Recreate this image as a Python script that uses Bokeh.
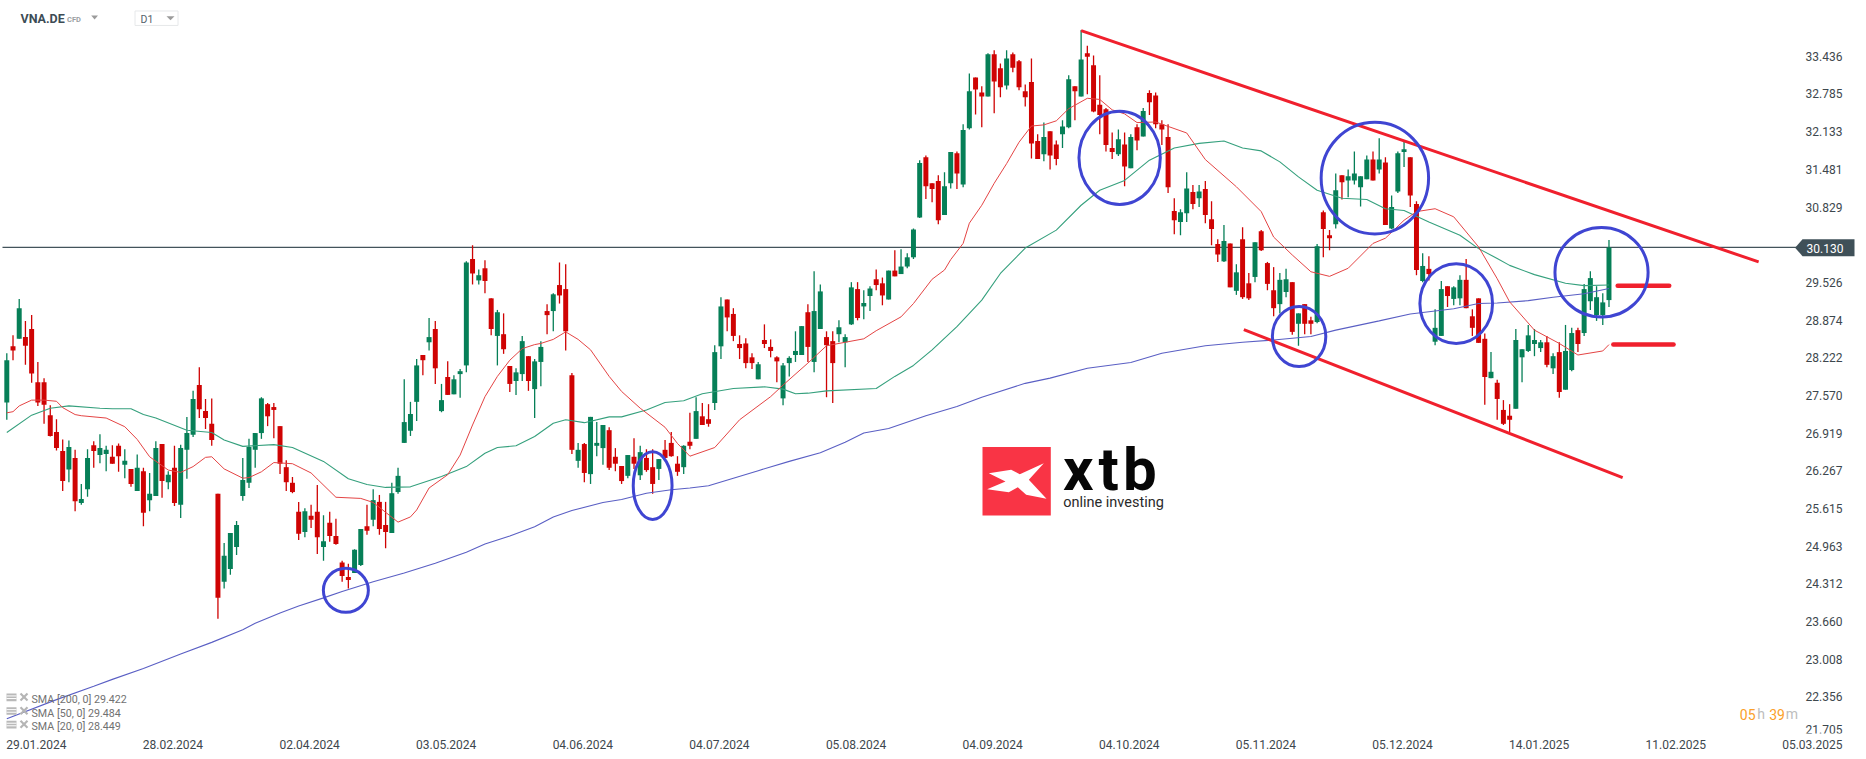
from bokeh.plotting import figure
from bokeh.embed import file_html
from bokeh.resources import INLINE
from bokeh.core.properties import value
from bokeh.models import LinearAxis, FixedTicker

# ---------- data ----------
symbol = "VNA.DE"
last_price = 30.13
date_labels = ["29.01.2024", "28.02.2024", "02.04.2024", "03.05.2024", "04.06.2024", "04.07.2024", "05.08.2024",
               "04.09.2024", "04.10.2024", "05.11.2024", "05.12.2024", "14.01.2025", "11.02.2025", "05.03.2025"]
price_ticks = [33.436, 32.785, 32.133, 31.481, 30.829, 29.526, 28.874, 28.222, 27.570, 26.919,
               26.267, 25.615, 24.963, 24.312, 23.660, 23.008, 22.356]
legend_rows = ["SMA [200, 0] 29.422", "SMA [50, 0] 29.484", "SMA [20, 0] 28.449"]

direction = ("GRGRRRRRRR" "GRGGRGGRRG" "RGRGGRGRGG" "GRRRRGGGGG" "GGRRRRRRGR" "RGRRRRGGRG" "RRGGGGGRGR"
             "GRGGGRGRRG" "RRGGRGGRGR" "RRGRGGGRRR" "GRGRRGRRRG" "RGRRGGRRRR" "RGRRRGGGGR" "GGRRGGGRGG"
             "RRGRGGGGRR" "RGGRGGRRGR" "RGRRRRRGRR" "GGRGRRRRRG" "RGRGRRRRRG" "GRGRRRGRGR" "RGRRRGGRGR"
             "RGRRGRGGGG" "RGRGGGRRGR" "GGRGGRRRRG" "RRRGGGGGRG" "RGGRGGGGG")

highs = [28.30,28.61,29.24,28.86,28.96,28.15,27.87,27.40,27.16,26.81,
26.79,26.63,26.04,26.64,26.78,26.90,26.70,26.71,26.74,26.64,
26.30,26.55,26.32,26.23,26.78,26.73,26.26,26.70,26.72,27.20,
27.65,28.06,27.51,27.52,25.87,25.02,25.19,25.40,26.49,26.82,
26.92,27.54,27.44,27.44,27.04,26.45,26.16,25.73,25.62,25.68,
26.02,25.50,25.56,25.44,24.71,24.66,24.91,25.26,25.68,25.95,
25.85,25.73,26.06,26.32,27.85,27.46,28.20,28.27,28.91,28.86,
27.77,28.16,27.92,28.03,29.89,30.17,29.75,29.91,29.25,29.05,
28.99,28.08,28.04,28.60,28.25,28.20,28.51,29.15,29.34,29.87,
29.84,27.96,26.75,26.75,27.20,27.11,27.06,27.02,26.66,26.35,
26.54,26.83,26.70,26.64,26.64,26.47,26.80,26.94,26.52,26.71,
27.27,27.54,27.44,27.42,28.44,29.27,29.23,29.08,28.61,28.56,
28.30,28.15,28.80,28.54,28.25,28.13,28.25,28.68,28.77,29.15,
29.72,29.49,28.68,28.68,28.87,28.63,29.53,29.53,29.39,29.46,
29.75,29.61,29.73,30.08,30.10,30.03,30.46,31.64,31.72,31.24,
31.38,31.43,31.78,31.79,32.26,33.14,33.07,32.92,33.49,33.54,
33.31,33.54,33.50,33.37,32.95,33.40,32.09,32.29,32.14,31.98,
32.33,33.11,32.92,33.89,33.62,33.45,33.11,32.54,32.12,32.17,
32.12,32.09,32.26,32.54,32.85,32.81,32.33,32.26,30.98,30.79,
31.43,31.21,31.21,31.28,30.93,30.27,30.52,30.20,29.84,30.48,
29.69,30.22,30.43,29.88,29.79,29.69,29.76,29.53,28.99,29.15,
28.93,30.19,30.77,30.43,31.41,31.38,31.48,31.79,31.36,31.72,
31.79,32.02,31.69,31.03,31.79,31.97,31.69,30.93,30.03,29.98,
29.06,29.55,29.46,29.46,29.65,29.93,29.06,29.25,28.64,28.32,
27.84,27.49,27.42,28.72,28.37,28.79,28.72,28.53,28.60,28.30,
28.49,28.79,28.74,28.74,29.50,29.72,29.46,29.34,30.26]

body_tops = [28.18,28.42,29.08,28.58,28.72,27.80,27.80,27.23,26.94,26.61,
26.68,26.49,25.78,26.49,26.71,26.66,26.63,26.51,26.70,26.44,
26.30,26.32,26.26,25.87,26.66,26.73,26.20,26.32,26.66,26.92,
27.51,27.75,27.30,27.08,25.87,24.80,25.19,25.33,26.11,26.68,
26.92,27.52,27.42,27.37,27.04,26.33,26.06,25.56,25.57,25.49,
25.56,25.05,25.37,25.14,24.68,24.43,24.90,25.26,25.31,25.76,
25.73,25.33,25.88,26.18,27.11,27.25,28.09,28.27,28.58,28.72,
27.49,27.89,27.85,27.99,29.87,29.93,29.65,29.77,29.25,29.01,
28.63,28.08,27.97,28.51,28.25,28.16,28.41,29.03,29.32,29.48,
29.41,27.92,26.63,26.73,27.20,26.75,27.06,26.97,26.51,26.35,
26.54,26.51,26.59,26.49,26.33,26.47,26.63,26.75,26.39,26.70,
26.77,27.30,27.21,27.16,28.32,29.11,29.23,28.98,28.46,28.47,
28.23,28.11,28.53,28.41,28.23,28.09,28.22,28.34,28.77,29.01,
29.03,29.37,28.58,28.51,28.75,28.58,29.44,29.41,29.17,29.42,
29.58,29.51,29.73,29.73,29.80,29.96,30.44,31.59,31.69,31.24,
31.28,31.19,31.78,31.76,32.16,32.83,33.07,32.81,33.47,33.47,
33.23,33.40,33.47,33.35,32.83,32.99,31.97,32.04,32.14,31.91,
32.22,33.04,32.92,33.38,33.49,33.28,32.60,32.52,31.85,32.00,
31.91,32.04,32.21,32.49,32.80,32.76,32.26,32.04,30.76,30.74,
31.15,31.09,31.10,31.14,30.62,30.19,30.24,30.20,29.70,30.27,
29.51,30.22,30.41,29.86,29.39,29.57,29.58,29.53,28.99,29.15,
28.87,30.15,30.74,30.34,31.12,31.38,31.36,31.41,31.36,31.65,
31.65,31.65,31.60,30.83,31.76,31.83,31.69,30.88,29.81,29.76,
28.74,29.41,29.46,29.44,29.57,29.57,28.94,29.25,28.55,27.98,
27.79,27.32,27.22,28.53,28.37,28.61,28.53,28.49,28.49,28.25,
28.32,28.34,28.65,28.70,29.41,29.60,29.27,29.18,30.13]

body_bottoms = [27.45,28.35,28.55,28.43,27.95,27.45,27.41,26.87,26.66,26.09,
26.29,25.74,25.71,25.95,26.61,26.54,26.56,26.39,26.52,26.37,
26.04,25.92,25.54,25.76,25.83,26.09,26.07,25.71,25.68,26.63,
26.89,27.33,27.18,26.80,24.07,24.35,24.57,24.95,25.83,26.06,
26.63,26.92,27.21,27.32,26.39,26.07,25.90,25.18,25.21,25.42,
25.12,24.95,25.14,25.00,24.45,24.38,24.50,24.64,25.23,25.42,
25.26,25.21,25.19,25.90,26.75,26.96,27.46,28.18,28.49,28.04,
27.30,27.58,27.59,27.94,28.09,29.68,29.56,29.55,28.72,28.60,
28.37,27.77,27.82,27.94,27.82,27.68,28.15,28.96,29.03,29.30,
28.68,26.63,26.44,26.23,26.21,26.70,26.66,26.32,26.39,26.09,
26.18,26.39,26.19,26.28,26.04,26.30,26.49,26.52,26.25,26.33,
26.70,26.82,27.06,27.08,27.44,28.42,28.92,28.60,28.39,28.13,
28.13,27.85,28.46,28.34,28.16,27.52,28.13,28.27,28.27,28.41,
28.15,28.72,28.44,28.13,28.63,28.49,28.80,28.91,29.11,29.29,
29.48,29.30,29.23,29.63,29.67,29.80,29.96,30.65,31.19,31.14,
30.60,30.69,31.24,31.41,31.22,32.19,32.86,32.74,32.74,33.00,
32.90,32.93,33.24,32.90,32.73,31.93,31.66,31.74,31.72,31.66,
32.09,32.21,32.83,32.74,33.43,32.48,32.42,31.90,31.78,31.74,
31.53,31.50,31.98,32.05,32.64,32.26,32.17,31.17,30.60,30.57,
30.72,30.88,30.98,30.69,30.45,30.01,29.89,29.44,29.38,29.27,
29.25,29.62,30.08,29.50,29.08,29.15,29.36,28.67,28.81,28.81,
28.81,28.84,30.45,30.29,30.53,31.26,31.29,31.29,31.17,31.31,
31.29,31.48,30.52,30.46,31.10,31.78,31.03,29.74,29.55,29.67,
28.50,28.60,29.29,29.24,29.25,29.08,28.74,28.48,27.89,27.87,
27.51,27.08,27.15,27.34,28.23,28.34,28.46,28.39,28.10,28.04,
27.63,27.67,28.01,28.46,28.65,29.20,28.96,28.96,29.22]

lows = [27.15,28.18,28.55,28.10,27.79,27.39,27.08,26.86,26.62,25.92,
26.07,25.57,25.68,25.82,26.32,26.40,26.26,26.39,26.25,26.14,
25.99,25.92,25.31,25.57,25.83,25.80,25.95,25.66,25.45,26.13,
26.85,27.18,26.99,26.70,23.71,24.23,24.47,24.81,25.75,25.97,
26.32,26.82,27.04,26.83,26.21,25.92,25.88,25.07,25.12,25.28,
24.83,24.71,25.04,24.99,24.35,24.23,24.50,24.62,25.16,25.31,
25.16,24.93,25.19,25.87,26.75,26.87,27.13,27.92,28.35,27.77,
27.28,27.58,27.59,27.53,27.97,29.49,29.49,29.34,28.61,28.09,
28.29,27.63,27.58,27.82,27.65,27.18,27.73,28.63,28.68,29.16,
28.35,26.56,26.32,26.07,26.04,26.52,26.37,26.28,26.26,26.04,
26.14,26.30,26.11,26.25,25.87,26.11,26.49,26.51,26.18,26.21,
26.64,26.82,27.06,27.03,27.32,28.20,28.68,28.51,28.20,28.04,
28.03,27.85,28.39,28.23,27.80,27.40,27.90,28.15,28.27,28.15,
27.97,28.72,27.54,27.44,28.49,28.06,28.79,28.87,28.89,29.03,
29.39,29.13,29.23,29.63,29.67,29.77,29.93,30.64,30.97,30.91,
30.53,30.69,31.15,31.14,31.17,32.17,32.43,32.21,32.74,32.45,
32.73,32.86,33.16,32.85,32.57,31.67,31.66,31.62,31.48,31.55,
31.85,32.19,32.33,32.74,32.78,32.47,32.09,31.79,31.66,31.71,
31.19,31.50,31.81,32.05,32.42,32.19,31.90,31.07,30.36,30.34,
30.57,30.79,30.83,30.55,30.17,29.88,29.88,29.44,29.31,29.24,
29.22,29.53,30.07,29.39,28.94,28.99,29.27,28.62,28.43,28.63,
28.63,28.82,29.96,30.08,30.46,30.96,31.00,31.22,30.84,31.31,
31.29,31.41,30.52,30.45,31.07,31.52,30.83,29.65,29.53,29.56,
28.44,28.60,29.10,29.13,29.13,29.08,28.60,28.48,27.41,27.87,
27.15,27.06,26.94,27.34,27.80,28.32,28.25,28.32,28.06,27.94,
27.53,27.67,27.99,28.32,28.60,29.05,28.86,28.79,29.10]

sma20_idx = [0,1,2,4,6,8,9,11,12,16,19,21,23,26,28,30,32,33,35,38,39,41,43,46,49,53,57,59,63,65,66,68,71,73,75,77,79,81,83,85,86,88,90,92,94,97,99,
102,106,108,110,114,118,123,125,129,132,135,138,140,144,146,149,151,152,154,155,157,159,161,163,165,167,169,171,174,176,178,180,182,185,190,193,198,202,204,207,210,213,216,220,222,225,227,230,233,237,240,242,246,250,253,257,258]
sma20_val = [27.27,27.29,27.39,27.49,27.49,27.47,27.36,27.24,27.22,27.18,27.03,26.81,26.51,26.28,26.24,26.34,26.50,26.51,26.30,26.14,26.15,26.25,26.41,26.39,26.23,25.81,25.79,25.72,25.38,25.47,25.59,25.97,26.20,26.54,27.06,27.55,27.90,28.18,28.38,28.45,28.47,28.54,28.67,28.54,28.36,27.90,27.64,
27.35,27.02,26.74,26.52,26.67,27.15,27.55,27.75,28.13,28.43,28.49,28.55,28.69,28.93,29.16,29.58,29.74,29.92,30.20,30.55,30.86,31.24,31.58,31.95,32.23,32.25,32.32,32.53,32.71,32.69,32.51,32.44,32.29,32.30,32.11,31.65,31.18,30.75,30.31,30.00,29.71,29.63,29.77,30.20,30.29,30.60,30.75,30.80,30.66,30.14,29.59,29.19,28.70,28.47,28.27,28.34,28.45]

sma50_idx = [0,4,7,10,15,17,20,22,24,29,33,35,38,43,46,51,55,58,61,65,70,74,77,79,82,85,88,90,93,97,99,103,106,109,112,117,122,125,127,129,132,140,143,146,149,153,157,160,164,169,173,176,180,184,188,192,196,199,202,205,208,211,215,219,222,225,229,234,237,240,242,246,251,254,258]
sma50_val = [26.93,27.23,27.35,27.39,27.35,27.34,27.34,27.24,27.18,26.97,26.93,26.80,26.69,26.72,26.67,26.43,26.13,26.03,25.98,25.99,26.17,26.34,26.57,26.67,26.70,26.86,27.09,27.15,27.10,27.20,27.20,27.32,27.45,27.48,27.60,27.69,27.72,27.68,27.60,27.61,27.65,27.69,27.90,28.09,28.36,28.76,29.22,29.68,30.12,30.43,30.86,31.12,31.29,31.64,31.85,31.93,31.97,31.85,31.80,31.61,31.35,31.12,30.98,30.96,30.80,30.77,30.57,30.34,30.11,29.94,29.82,29.66,29.51,29.47,29.48]

sma200_idx = [0,8,14,17,22,28,33,38,40,44,47,51,54,59,64,69,74,77,81,85,88,91,96,99,103,107,110,113,117,121,126,131,135,138,142,148,153,157,164,168,174,181,186,193,199,204,210,214,221,226,233,237,240,245,249,254,258]
sma200_val = [21.98,22.31,22.54,22.66,22.85,23.10,23.30,23.52,23.63,23.81,23.93,24.07,24.18,24.35,24.50,24.67,24.86,25.00,25.14,25.30,25.47,25.58,25.72,25.77,25.88,25.94,25.97,26.01,26.14,26.27,26.43,26.58,26.76,26.92,27.00,27.22,27.38,27.54,27.78,27.87,28.04,28.14,28.30,28.43,28.49,28.53,28.59,28.70,28.86,28.98,29.07,29.16,29.17,29.21,29.27,29.33,29.42]

# drawn annotations of the analyst: candle index / price
trend_upper_x, trend_upper_y = [173.0, 282.1], [33.88, 29.88]
trend_lower_x, trend_lower_y = [199.2, 260.2], [28.71, 26.15]
level_x0 = [259.4, 258.7]
level_x1 = [267.7, 268.4]
level_y = [29.47, 28.45]
ring_x = [54.6, 104.0, 179.2, 220.3, 208.1, 233.4, 256.8]
ring_y = [24.20, 26.01, 31.68, 31.33, 28.59, 29.16, 29.70]
ring_w = [7.25, 6.25, 13.1, 17.3, 8.6, 11.7, 15.0]
ring_h = [0.76, 1.17, 1.61, 1.93, 1.04, 1.38, 1.55]

# ---------- layout ----------
STEP, X0 = 6.21, 6.3      # px per candle, px of candle 0
PX_PRICE, Y_LAST = 57.9, 247.3
W, FRAME_H, H = 1858, 734, 751

def fx(px):
    return (px - X0) / STEP

def fy(py):
    return last_price - (py - Y_LAST) / PX_PRICE

p = figure(width=W, height=H, output_backend="svg", toolbar_location=None,
           x_range=(fx(0), fx(W)), y_range=(fy(FRAME_H), fy(0)),
           x_axis_location="below", y_axis_location=None,
           min_border_left=0, min_border_right=0, min_border_top=0, min_border_bottom=H - FRAME_H,
           background_fill_color="white", border_fill_color="white", outline_line_color=None)
p.grid.visible = False

FONT = value("Roboto")
TICK_COL = "#3d474d"

# x axis: label text starts at its candle, so centre it half a label further on
xt = [22 * k + 4.75 for k in range(len(date_labels))]
ax = p.xaxis[0]
ax.ticker = FixedTicker(ticks=xt)
ax.major_label_overrides = dict(zip(xt, date_labels))
ax.axis_line_color = None
ax.major_tick_line_color = None
ax.minor_tick_line_color = None
ax.major_label_standoff = 0
ax.major_label_text_font = "Roboto"
ax.major_label_text_font_size = "12px"
ax.major_label_text_color = TICK_COL

# y axis sits inside the frame, at the chart's right edge
yt = price_ticks + [21.79]
y_over = {v: f"{v:.3f}" for v in price_ticks}
y_over[21.79] = "21.705"
yax = LinearAxis(fixed_location=fx(1797), ticker=FixedTicker(ticks=yt), major_label_overrides=y_over,
                 axis_line_color=None, major_tick_line_color=None, minor_tick_line_color=None,
                 major_label_standoff=2, major_label_text_font="Roboto", major_label_text_font_size="12px",
                 major_label_text_color=TICK_COL)
p.add_layout(yax, "right")

# price line
p.line([fx(2), fx(1797)], [last_price, last_price], line_color="#43535b", line_width=1.3)

# candles
idx = list(range(len(highs)))
UP, DOWN = "#067f57", "#cf0303"
cols = [UP if d == "G" else DOWN for d in direction]
p.segment(idx, highs, idx, lows, line_color=cols, line_width=1.3)
p.vbar(x=idx, top=body_tops, bottom=body_bottoms, width=0.8, fill_color=cols, line_color=None)

# moving averages
p.line(sma200_idx, sma200_val, line_color="#5a5fc4", line_width=1.1)
p.line(sma50_idx, sma50_val, line_color="#35a07d", line_width=1.1)
p.line(sma20_idx, sma20_val, line_color="#e44444", line_width=1.0)

# analyst drawing
RED = "#f0202d"
p.line(trend_upper_x, trend_upper_y, line_color=RED, line_width=3)
p.line(trend_lower_x, trend_lower_y, line_color=RED, line_width=3)
p.segment(level_x0, level_y, level_x1, level_y, line_color=RED, line_width=4.5, line_cap="round")
p.ellipse(x=ring_x, y=ring_y, width=ring_w, height=ring_h, fill_color=None, line_color="#3f45d2", line_width=3)

# current price tag
p.patch([fx(v) for v in (1794.6, 1802, 1854, 1854, 1802)],
        [fy(v) for v in (247.5, 239, 239, 256, 256)], fill_color="#3f5058", line_color=None)
p.text([fx(1806)], [fy(248.3)], text=[f"{last_price:.3f}"], text_color="white", text_font=FONT,
       text_font_size="12px", text_baseline="middle", text_align="left")

# header
p.text([fx(20)], [fy(18.5)], text=[symbol], text_color="#3d4c55", text_font=FONT, text_font_style="bold",
       text_font_size="12.5px", text_baseline="middle")
p.text([fx(66.5)], [fy(19)], text=["CFD"], text_color="#9a9fa3", text_font=FONT, text_font_style="bold",
       text_font_size="7.5px", text_baseline="middle")
for a, b, yy in ((90.7, 97.5, 15), (166, 174, 15.7)):
    p.patch([fx(a), fx(b), fx((a + b) / 2)], [fy(yy), fy(yy), fy(yy + 4)], fill_color="#9b9b9b", line_color=None)
p.quad(left=[fx(134.5)], right=[fx(177.5)], top=[fy(10.5)], bottom=[fy(25)], fill_color=None,
       line_color="#e6e8ea", line_width=1)
p.text([fx(140)], [fy(19.5)], text=["D1"], text_color="#56636b", text_font=FONT, text_font_size="10.5px",
       text_baseline="middle")

# indicator legend
for row, (txt, yc) in enumerate(zip(legend_rows, (700, 713.7, 727.3))):
    p.text([fx(31)], [fy(yc)], text=[txt], text_color="#717171", text_font=FONT, text_font_size="10.7px",
           text_baseline="middle")
    p.quad(left=[fx(6)], right=[fx(16)], top=[fy(yc - 6)], bottom=[fy(yc + 1.6)], fill_color="#b9b9b9", line_color=None)
    p.segment([fx(6)], [fy(yc - 3.6)], [fx(16)], [fy(yc - 3.6)], line_color="white", line_width=1)
    p.segment([fx(6)], [fy(yc - 1)], [fx(16)], [fy(yc - 1)], line_color="white", line_width=1)
    p.segment([fx(20), fx(20)], [fy(yc - 6), fy(yc + 1)], [fx(27), fx(27)], [fy(yc + 1), fy(yc - 6)],
              line_color="#b5b5b5", line_width=2.2)

# countdown
for txt, px, col in (("05", 1739.3, "#fba029"), ("h", 1756.7, "#bdbdbd"), ("39", 1768.7, "#fba029"), ("m", 1785.3, "#bdbdbd")):
    p.text([fx(px)], [fy(714.5)], text=[txt], text_color=col, text_font=FONT, text_font_size="14px",
           text_baseline="middle")

# logo
p.quad(left=[fx(982)], right=[fx(1050.3)], top=[fy(447)], bottom=[fy(515.7)], fill_color="#f93445", line_color=None)
mark = [(85, 130), (152, 120), (178, 133), (250, 100), (205, 150), (258, 207), (197, 195), (172, 172), (145, 187), (80, 178), (135, 155)]
p.patch([fx(960 + a / 3) for a, _ in mark], [fy(430 + b / 3) for _, b in mark], fill_color="white", line_color=None)
for ch, px in (("x", 1062.5), ("t", 1098), ("b", 1122.5)):
    p.text([fx(px)], [fy(470)], text=[ch], text_color="#060606", text_font=FONT, text_font_style="bold",
           text_font_size="60px", text_baseline="middle")
p.text([fx(1062.7)], [fy(503)], text=["online investing"], text_color="#2a2a2a", text_font=FONT,
       text_font_size="14.5px", text_baseline="middle")

open("out.html", "w").write(file_html(p, INLINE))
